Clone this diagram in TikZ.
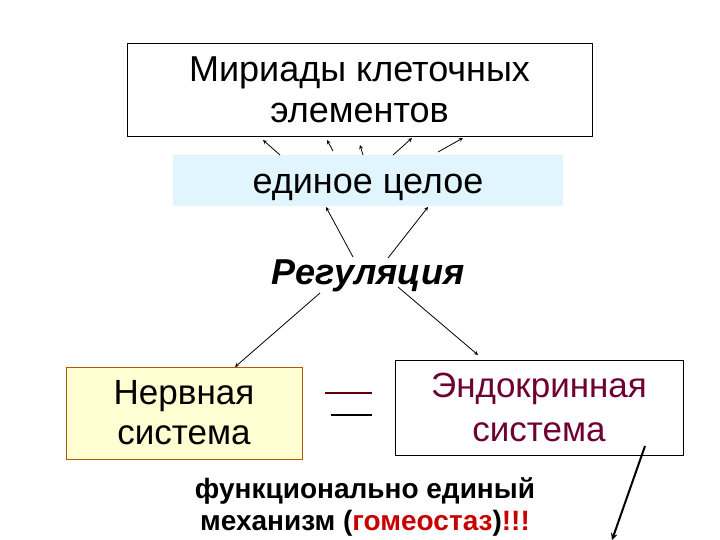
\documentclass[tikz,border=0pt]{standalone}
\usepackage{fontspec}
\setmainfont{Liberation Sans}
\definecolor{endoc}{RGB}{110,0,50}
\definecolor{homc}{RGB}{200,0,0}
\begin{document}
\begin{tikzpicture}[x=1pt,y=-1pt,
  arr/.style={-stealth,line width=0.8pt},
  txt/.style={align=center,inner sep=0pt}]
\useasboundingbox (0,0) rectangle (720,540);
\fill[white] (0,0) rectangle (720,540);
\node[draw,line width=0.6pt,minimum width=465,minimum height=93,txt,font=\fontsize{36}{42}\selectfont] (top) at (359.5,89.5) {Мириады клеточных\\[-1pt]элементов};
\node[fill=cyan!12!white,minimum width=390,minimum height=51,inner sep=0pt] (cy) at (368,180.5) {};
\node[txt,font=\fontsize{36}{40}\selectfont] (cyt) at (368,187) {единое целое};
\node[txt,font=\fontsize{36}{40}\selectfont\bfseries\itshape] (reg) at (368,276) {Регуляция};
\node[draw=orange!70!black,fill=yellow!18!white,line width=0.6pt,minimum width=236,minimum height=92,txt,font=\fontsize{35}{40}\selectfont] (nerv) at (184,413) {Нервная\\система};
\node[draw,line width=0.6pt,minimum width=288,minimum height=95,txt,font=\fontsize{35}{44}\selectfont,text=endoc] (endo) at (539,407.5) {Эндокринная\\система};
\node[txt,font=\fontsize{28}{32}\selectfont\bfseries] (fun) at (365,507) {функционально единый\\механизм (\textcolor{homc}{гомеостаз})\textcolor{homc}{!!!}};
\coordinate (e1a) at (325,393); \coordinate (e1b) at (372,393);
\coordinate (e2a) at (331,415); \coordinate (e2b) at (372,415);
\draw[line width=2.2pt,red!40!black] (e1a) -- (e1b);
\draw[line width=2.2pt] (e2a) -- (e2b);
\foreach \a/\b/\c/\d [count=\i] in {280/155/263/140,333/151/327/140,363/155/360/145,393/155/412/138,438/152/463/138}{
  \coordinate (s\i) at (\a,\b); \coordinate (t\i) at (\c,\d);
  \draw[arr] (s\i) -- (t\i);}
\coordinate (r1) at (353,257); \coordinate (c1) at (326,207);
\coordinate (r2) at (388,258); \coordinate (c2) at (428,207);
\draw[arr] (r1) -- (c1); \draw[arr] (r2) -- (c2);
\coordinate (r3) at (320,293); \coordinate (n1) at (235,367);
\coordinate (r4) at (398,287); \coordinate (n2) at (478,355);
\draw[arr] (r3) -- (n1); \draw[arr] (r4) -- (n2);
\coordinate (b1) at (645,446); \coordinate (b2) at (612,540);
\draw[-stealth,line width=2pt] (b1) -- (b2);
\end{tikzpicture}
\end{document}
